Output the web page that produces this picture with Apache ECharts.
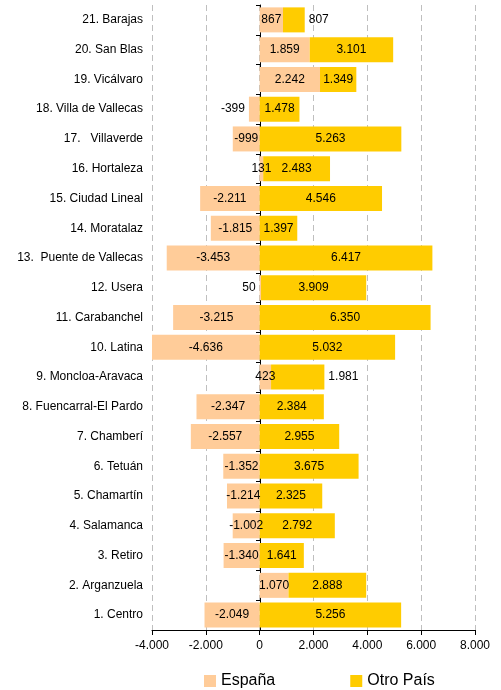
<!DOCTYPE html>
<html>
<head>
<meta charset="utf-8">
<script src="https://cdn.jsdelivr.net/npm/echarts@6/dist/echarts.min.js"></script>
<style>
  html, body { margin: 0; padding: 0; background: #fff; }
  #chart { width: 501px; height: 690px; }
</style>
</head>
<body>
<div id="chart"></div>
<script>
// distritos, de abajo (1. Centro) hacia arriba
var districts = [
  '1. Centro', '2. Arganzuela', '3. Retiro', '4. Salamanca', '5. Chamartín',
  '6. Tetuán', '7. Chamberí', '8. Fuencarral-El Pardo', '9. Moncloa-Aravaca',
  '10. Latina', '11. Carabanchel', '12. Usera', '13.  Puente de Vallecas',
  '14. Moratalaz', '15. Ciudad Lineal', '16. Hortaleza', '17.   Villaverde',
  '18. Villa de Vallecas', '19. Vicálvaro', '20. San Blas', '21. Barajas'
];
var espana = [
  -2049, 1070, -1340, -1002, -1214, -1352, -2557, -2347, 423, -4636,
  -3215, 50, -3453, -1815, -2211, 131, -999, -399, 2242, 1859, 867
];
var otroPais = [
  5256, 2888, 1641, 2792, 2325, 3675, 2955, 2384, 1981, 5032,
  6350, 3909, 6417, 1397, 4546, 2483, 5263, 1478, 1349, 3101, 807
];
var xTicks = [-4000, -2000, 0, 2000, 4000, 6000, 8000];

function fmt(v) {
  var s = Math.abs(v).toString().replace(/\B(?=(\d{3})+(?!\d))/g, '.');
  return (v < 0 ? '-' : '') + s;
}

// etiquetas que quedan fuera de la barra (como en el original)
var espanaLabelPos = { 17: 'left', 11: 'left' };
var otroLabelPos = { 20: 'right', 8: 'right' };

function buildData(values, posMap) {
  return values.map(function (v, i) {
    var item = { value: v };
    if (posMap[i]) item.label = { position: posMap[i], distance: 4 };
    return item;
  });
}

var chart = echarts.init(document.getElementById('chart'));
var font = 'Liberation Sans, Arial, sans-serif';

chart.setOption({
  animation: false,
  textStyle: { fontFamily: font },
  grid: { left: 152, right: 26, top: 5, bottom: 60 },
  legend: {
    left: 199,
    top: 668,
    itemWidth: 12,
    itemHeight: 12,
    itemGap: 75,
    icon: 'rect',
    textStyle: { fontSize: 16, color: '#000', fontFamily: font },
    data: ['España', 'Otro País']
  },
  xAxis: {
    type: 'value',
    min: -4000,
    max: 8000,
    interval: 2000,
    axisLine: { show: true, onZero: false, lineStyle: { color: '#000', width: 1 } },
    axisTick: { show: true, length: 5, lineStyle: { color: '#000' } },
    axisLabel: {
      margin: 10,
      fontSize: 12,
      color: '#000',
      fontFamily: font,
      formatter: function (v) { return xTicks.indexOf(v) >= 0 ? fmt(v) : ''; }
    },
    splitLine: { show: true, lineStyle: { color: '#bfbfbf', type: [6, 4], width: 1 } }
  },
  yAxis: [
    {
      type: 'category',
      data: districts,
      axisLine: { show: false },
      axisTick: { show: false },
      axisLabel: { margin: 9, fontSize: 12, color: '#000', fontFamily: font }
    },
    {
      // línea del eje en el cero
      type: 'category',
      data: districts,
      position: 'left',
      offset: -108,
      axisLine: { show: true, onZero: false, lineStyle: { color: '#000', width: 1 } },
      axisTick: { show: true, length: 4, lineStyle: { color: '#000' } },
      axisLabel: { show: false }
    }
  ],
  series: [
    {
      name: 'España',
      type: 'bar',
      stack: 'total',
      barWidth: 25,
      itemStyle: { color: '#FFCC99' },
      label: {
        show: true,
        position: 'inside',
        fontSize: 12,
        color: '#000',
        fontFamily: font,
        formatter: function (p) { return fmt(p.value); }
      },
      data: buildData(espana, espanaLabelPos)
    },
    {
      name: 'Otro País',
      type: 'bar',
      stack: 'total',
      barWidth: 25,
      itemStyle: { color: '#FFCC00' },
      label: {
        show: true,
        position: 'inside',
        fontSize: 12,
        color: '#000',
        fontFamily: font,
        formatter: function (p) { return fmt(p.value); }
      },
      data: buildData(otroPais, otroLabelPos)
    }
  ]
});
</script>
</body>
</html>
